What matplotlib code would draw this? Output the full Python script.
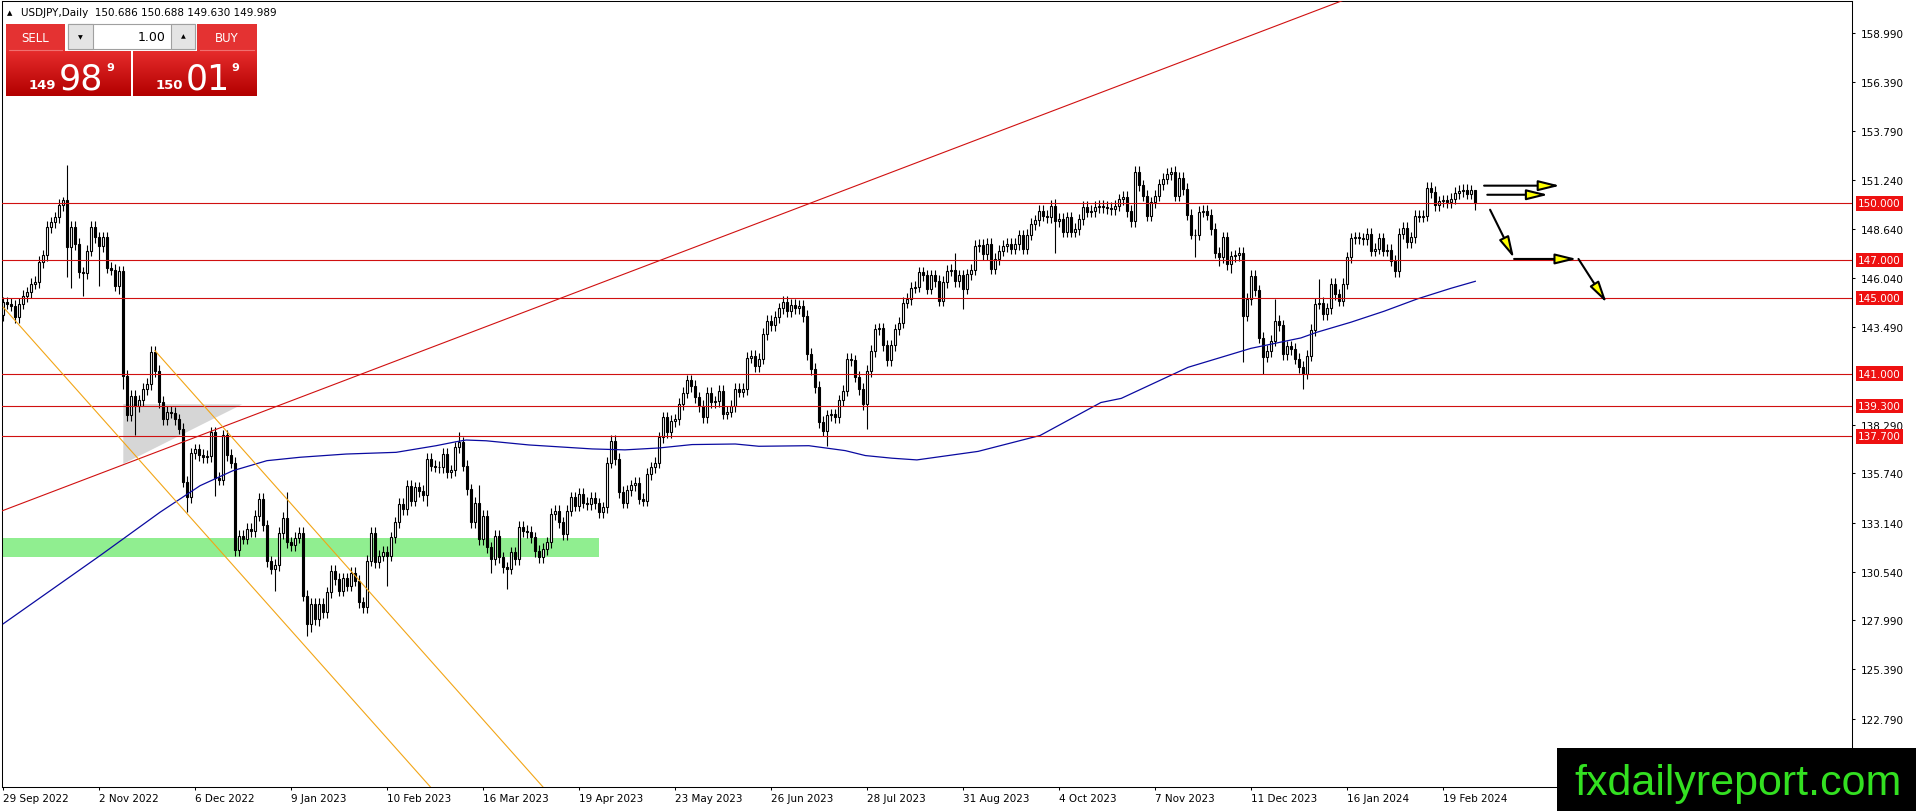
import numpy as np
import matplotlib.pyplot as plt
from matplotlib.patches import Rectangle, Polygon, FancyArrowPatch

W, H = 1916, 812

# daily closes, bar 0 = 29 Sep 2022, last bar = 1 Mar 2024
first_open = 144.10
closes = [
    144.77, 144.70, 144.60, 144.00, 144.70, 145.10, 145.30, 145.75, 145.85, 146.90, 147.25, 148.75,  # 0
    149.00, 149.25, 149.90, 150.15, 147.70, 148.75, 147.85, 146.35, 146.30, 147.50, 148.75, 148.20,  # 12
    147.75, 148.20, 146.60, 146.50, 145.65, 146.40, 140.90, 138.80, 139.85, 139.30, 139.60, 140.20,  # 24
    140.45, 142.15, 141.15, 139.50, 138.60, 139.00, 138.95, 138.60, 138.10, 135.30, 134.50, 136.80,  # 36
    137.00, 136.70, 136.60, 136.65, 137.90, 135.50, 135.40, 137.75, 136.70, 136.30, 131.70, 132.45,  # 48
    132.30, 132.80, 132.70, 133.50, 134.40, 133.00, 131.10, 130.70, 130.90, 132.60, 133.40, 132.10,  # 60
    131.95, 132.35, 132.60, 129.28, 127.78, 128.84, 128.05, 128.84, 128.40, 129.45, 130.60, 130.16,  # 72
    129.54, 130.20, 129.81, 130.50, 130.07, 128.93, 128.66, 131.13, 132.60, 131.04, 131.40, 131.60,  # 84
    131.40, 132.36, 133.15, 134.12, 133.86, 135.09, 134.30, 135.00, 134.80, 134.60, 136.50, 136.14,  # 96
    136.10, 136.05, 136.76, 135.79, 135.90, 137.11, 137.38, 136.14, 134.90, 133.15, 134.20, 132.27,  # 108
    133.50, 131.83, 131.20, 132.45, 131.30, 130.77, 130.70, 131.57, 131.20, 132.90, 132.70, 132.65,  # 120
    132.36, 131.65, 131.30, 131.74, 132.10, 133.60, 133.77, 133.15, 132.54, 133.77, 134.47, 134.03,  # 132
    134.65, 134.20, 134.12, 134.45, 134.15, 133.70, 133.95, 136.30, 137.45, 136.50, 134.75, 134.20,  # 144
    134.85, 135.10, 135.25, 134.40, 134.30, 135.70, 136.05, 136.30, 137.65, 138.70, 137.90, 138.50,  # 156
    138.60, 139.40, 140.00, 140.65, 140.35, 139.75, 139.30, 138.70, 140.00, 139.50, 139.55, 140.10,  # 168
    138.90, 139.00, 139.30, 140.20, 140.05, 140.20, 141.85, 141.95, 141.40, 141.80, 143.10, 143.80,  # 180
    143.55, 144.00, 144.45, 144.80, 144.30, 144.65, 144.45, 144.60, 144.05, 142.05, 141.25, 140.30,  # 192
    138.45, 138.00, 138.80, 138.85, 138.70, 139.60, 140.10, 141.80, 141.70, 140.85, 140.20, 139.40,  # 204
    141.15, 142.20, 143.35, 143.40, 142.50, 141.70, 142.50, 143.35, 143.70, 144.75, 144.95, 145.55,  # 216
    145.60, 146.35, 146.20, 145.50, 146.20, 145.90, 144.85, 145.85, 146.45, 146.50, 145.90, 146.20,  # 228
    145.50, 146.25, 146.50, 147.75, 147.80, 147.30, 147.85, 146.55, 147.05, 147.50, 147.75, 147.85,  # 240
    147.60, 147.85, 148.30, 147.60, 148.35, 148.90, 149.10, 149.60, 149.35, 149.25, 149.85, 149.05,  # 252
    149.17, 148.50, 149.25, 148.50, 148.65, 149.15, 149.80, 149.55, 149.60, 149.80, 149.85, 149.80,  # 264
    149.75, 149.70, 149.88, 150.20, 150.35, 149.60, 149.05, 151.65, 150.95, 150.40, 149.35, 150.05,  # 276
    150.40, 151.00, 151.30, 151.55, 151.67, 150.40, 151.35, 150.75, 149.40, 148.33, 148.35, 149.55,  # 288
    149.60, 149.40, 148.65, 147.40, 147.15, 148.20, 146.80, 147.20, 147.25, 147.40, 144.07, 144.95,  # 300
    146.18, 145.40, 142.90, 141.90, 142.20, 142.75, 143.80, 143.55, 142.05, 142.45, 142.30, 141.80,  # 312
    141.35, 141.00, 141.95, 143.30, 144.70, 144.75, 144.15, 144.45, 145.75, 145.20, 144.85, 145.75,  # 324
    147.15, 148.15, 148.20, 148.15, 148.10, 148.40, 147.50, 147.60, 148.15, 147.50, 147.55, 146.97,  # 336
    146.40, 148.40, 148.70, 147.95, 148.20, 149.35, 149.30, 149.35, 150.80, 150.60, 149.90, 150.10,  # 348
    150.15, 150.05, 150.25, 150.55, 150.65, 150.70, 150.50, 150.686, 149.989,                        # 360
]
# long wicks that stand out on the chart
high_marks = {15: 150.32, 16: 152.00, 71: 134.74, 92: 132.89, 114: 137.94, 119: 135.10,
              238: 147.40, 263: 150.20, 292: 151.90, 318: 144.95, 329: 146.00, 368: 150.688}
low_marks = {16: 146.10, 17: 145.55, 20: 145.10, 24: 145.65, 29: 145.20, 30: 140.20, 33: 137.75,
             46: 133.70, 53: 134.55, 68: 129.55, 76: 127.17, 77: 127.35, 79: 127.70, 96: 129.81,
             106: 134.03, 122: 130.50, 126: 129.63, 206: 137.20, 216: 138.10, 240: 144.40,
             263: 147.40, 297: 148.10, 298: 147.15, 304: 146.70, 307: 146.30, 310: 141.60,
             315: 141.00, 325: 140.20, 368: 149.63}
wick = 0.3

# moving average (blue), sampled along the line
ma_bar = [0, 24.2, 39.2, 49.2, 57.4, 65.9, 74.2, 85.7, 98.2, 108.2, 113.2, 115.7, 120.7, 131.4,
          147.2, 155.4, 163.9, 172.2, 183, 188.9, 201.4, 210.5, 215.5, 222.2, 228.4, 243.7,
          259.2, 274.4, 279.5, 296.2, 311.9, 324.4, 328.4, 336.9, 345.2, 353.5, 361.9, 368]
ma_val = [127.8, 131.4, 133.69, 135.09, 135.88, 136.41, 136.59, 136.76, 136.85, 137.2, 137.41,
          137.5, 137.46, 137.24, 137.03, 136.98, 137.08, 137.26, 137.29, 137.17, 137.2, 136.94,
          136.68, 136.54, 136.45, 136.9, 137.74, 139.48, 139.7, 141.34, 142.34, 142.89, 143.19,
          143.72, 144.3, 144.95, 145.51, 145.88]

levels = [150.0, 147.0, 145.0, 141.0, 139.3, 137.7]
price_ticks = [158.99, 156.39, 153.79, 151.24, 148.64, 146.04, 143.49, 138.29, 135.74,
               133.14, 130.54, 127.99, 125.39, 122.79]
date_labels = ['29 Sep 2022', '2 Nov 2022', '6 Dec 2022', '9 Jan 2023', '10 Feb 2023',
               '16 Mar 2023', '19 Apr 2023', '23 May 2023', '26 Jun 2023', '28 Jul 2023',
               '31 Aug 2023', '4 Oct 2023', '7 Nov 2023', '11 Dec 2023', '16 Jan 2024',
               '19 Feb 2024']
date_pos = [24 * i for i in range(len(date_labels))]

# drawn objects (bar index, price)
trend_pts = [(-0.8, 133.72), (74.2, 139.75)]
chan_low = [(0, 144.51), (74.2, 126.91)]
chan_up = [(37.9, 142.22), (74.2, 133.60)]
box_green = (-5, 148.9, 131.3, 132.35)
tri_gray = [(30, 139.4), (59.7, 139.38), (30, 136.24)]
arrows = [((370.2, 150.93), (389.2, 150.93)),
          ((371.0, 150.45), (386.25, 150.45)),
          ((371.7, 149.66), (377.7, 147.10)),
          ((377.7, 147.06), (393.4, 147.06)),
          ((393.8, 147.06), (400.85, 144.74))]

assert len(closes) == 369
closes = np.array(closes)
opens = np.r_[first_open, closes[:-1]]
x = np.arange(len(closes))
highs = np.maximum(opens, closes) + wick
lows = np.minimum(opens, closes) - wick
for k, v in high_marks.items():
    highs[k] = v
for k, v in low_marks.items():
    lows[k] = v

fig = plt.figure(figsize=(W / 100, H / 100), dpi=100)
fig.patch.set_facecolor('white')
ax = fig.add_axes([2 / W, (H - 788) / H, 1850 / W, 786 / H])
ax.set_xlim(-0.325, 462.18)
ax.set_ylim(119.18, 160.68)

red = '#D01010'
# background objects
gx0, gx1, gy0, gy1 = box_green
ax.add_patch(Rectangle((gx0, gy0), gx1 - gx0, gy1 - gy0, fc='#90EE90', ec='none', zorder=1))
ax.add_patch(Polygon(tri_gray, closed=True, fc='#D6D6D6', ec='none', zorder=1))

# candles
up = closes >= opens
body_lo = np.minimum(opens, closes)
body_h = np.maximum(np.abs(closes - opens), 0.02)
ax.vlines(x, lows, highs, color='black', linewidth=0.8, zorder=2)
ax.bar(x[up], body_h[up], bottom=body_lo[up], width=0.55, facecolor='white',
       edgecolor='black', linewidth=0.8, zorder=2.5)
ax.bar(x[~up], body_h[~up], bottom=body_lo[~up], width=0.55, facecolor='black',
       edgecolor='black', linewidth=0.8, zorder=2.5)

ax.plot(ma_bar, ma_val, color='#0A0AA0', linewidth=0.9, zorder=3)

for lvl in levels:
    ax.axhline(lvl, color=red, linewidth=0.8, zorder=3)


def ray(p, q, x_end):
    (x0, y0), (x1, y1) = p, q
    s = (y1 - y0) / (x1 - x0)
    return [x0, x_end], [y0, y0 + s * (x_end - x0)]


ax.plot(*ray(*trend_pts, 460), color=red, linewidth=0.8, zorder=3)
ax.plot(*ray(*chan_low, 200), color='#F2A516', linewidth=0.8, zorder=3)
ax.plot(*ray(*chan_up, 200), color='#F2A516', linewidth=0.8, zorder=3)

for a, b in arrows:
    ax.add_patch(FancyArrowPatch(a, b, arrowstyle='-|>,head_length=1.3,head_width=0.32',
                                 mutation_scale=10, shrinkA=0, shrinkB=0, linewidth=1.5,
                                 edgecolor='black', facecolor='#FFFF00', zorder=4))

# axes look
for s in ax.spines.values():
    s.set_linewidth(0.75)
    s.set_color('black')
ax.yaxis.tick_right()
ax.set_yticks(price_ticks)
ax.set_yticklabels([f'{v:.3f}' for v in price_ticks])
ax.set_xticks(date_pos)
ax.set_xticklabels(date_labels)
for lbl in ax.get_xticklabels():
    lbl.set_ha('left')
ax.tick_params(axis='both', labelsize=7.5, length=2.5, width=0.75, direction='out', pad=2)
ax.tick_params(axis='y', pad=4)

for lvl in levels:
    ax.text(1 + 6 / 1850, lvl, f'{lvl:.3f}', transform=ax.get_yaxis_transform(), ha='left',
            va='center', color='white', fontsize=7.5, clip_on=False, zorder=6,
            bbox=dict(boxstyle='square,pad=0.22', fc='#EE1111', ec='none'))

# overlay in pixel coordinates: header, trade panel, watermark
ov = fig.add_axes([0, 0, 1, 1], zorder=10)
ov.patch.set_visible(False)
ov.axis('off')

ov.text(7, 13, '\u25b2', fontsize=5, va='center', ha='left', color='black')
ov.text(21, 13, 'USDJPY,Daily  150.686 150.688 149.630 149.989', fontsize=7.5,
        va='center', ha='left', color='black')

grad = np.linspace(0, 1, 40)[:, None, None]
top_c = np.array([0.90, 0.17, 0.17])
bot_c = np.array([0.70, 0.0, 0.0])
grad_img = top_c * (1 - grad) + bot_c * grad
for xa, xb in [(6, 131), (133, 257)]:
    ov.imshow(grad_img, extent=(xa, xb, 97, 52), aspect='auto', zorder=1)
for xa, xb in [(6, 65), (197, 257)]:
    ov.add_patch(Rectangle((xa, 25), xb - xa, 27, fc='#E43232', ec='none', zorder=1))
    ov.plot([xa + 3, xb - 3], [51, 51], color='#F07070', linewidth=0.8, zorder=2)
ov.text(35.5, 38.5, 'SELL', color='white', fontsize=8.5, ha='center', va='center')
ov.text(227, 38.5, 'BUY', color='white', fontsize=8.5, ha='center', va='center')
ov.add_patch(Rectangle((68, 25), 127, 25, fc='white', ec='#A0A0A0', linewidth=0.8, zorder=1))
ov.add_patch(Rectangle((68, 25), 25, 25, fc='#E4E4E4', ec='#A0A0A0', linewidth=0.8, zorder=2))
ov.add_patch(Rectangle((171, 25), 24, 25, fc='#E4E4E4', ec='#A0A0A0', linewidth=0.8, zorder=2))
ov.text(80.5, 38, '\u25bc', fontsize=4.5, ha='center', va='center', color='black', zorder=3)
ov.text(183, 37, '\u25b2', fontsize=4.5, ha='center', va='center', color='black', zorder=3)
ov.text(166, 37.5, '1.00', fontsize=9, ha='right', va='center', color='black', zorder=3)

for xs, big_x, sup_x, small, big in [(29, 59, 106, '149', '98'), (156, 186, 231, '150', '01')]:
    ov.text(xs, 89, small, color='white', fontsize=9.5, fontweight='bold', ha='left',
            va='baseline', zorder=3)
    ov.text(big_x, 89, big, color='white', fontsize=25, ha='left', va='baseline', zorder=3)
    ov.text(sup_x, 71, '9', color='white', fontsize=8, fontweight='bold', ha='left',
            va='baseline', zorder=3)

ov.add_patch(Rectangle((1557, 749), W - 1557, H - 749, fc='black', ec='none', zorder=1))
ov.text(1574, 795, 'fxdailyreport.com', color='#33E021', fontsize=31,
        family='Liberation Sans', ha='left', va='baseline', zorder=3)

ov.set_xlim(0, W)
ov.set_ylim(H, 0)

fig.savefig('out.png', dpi=100)
